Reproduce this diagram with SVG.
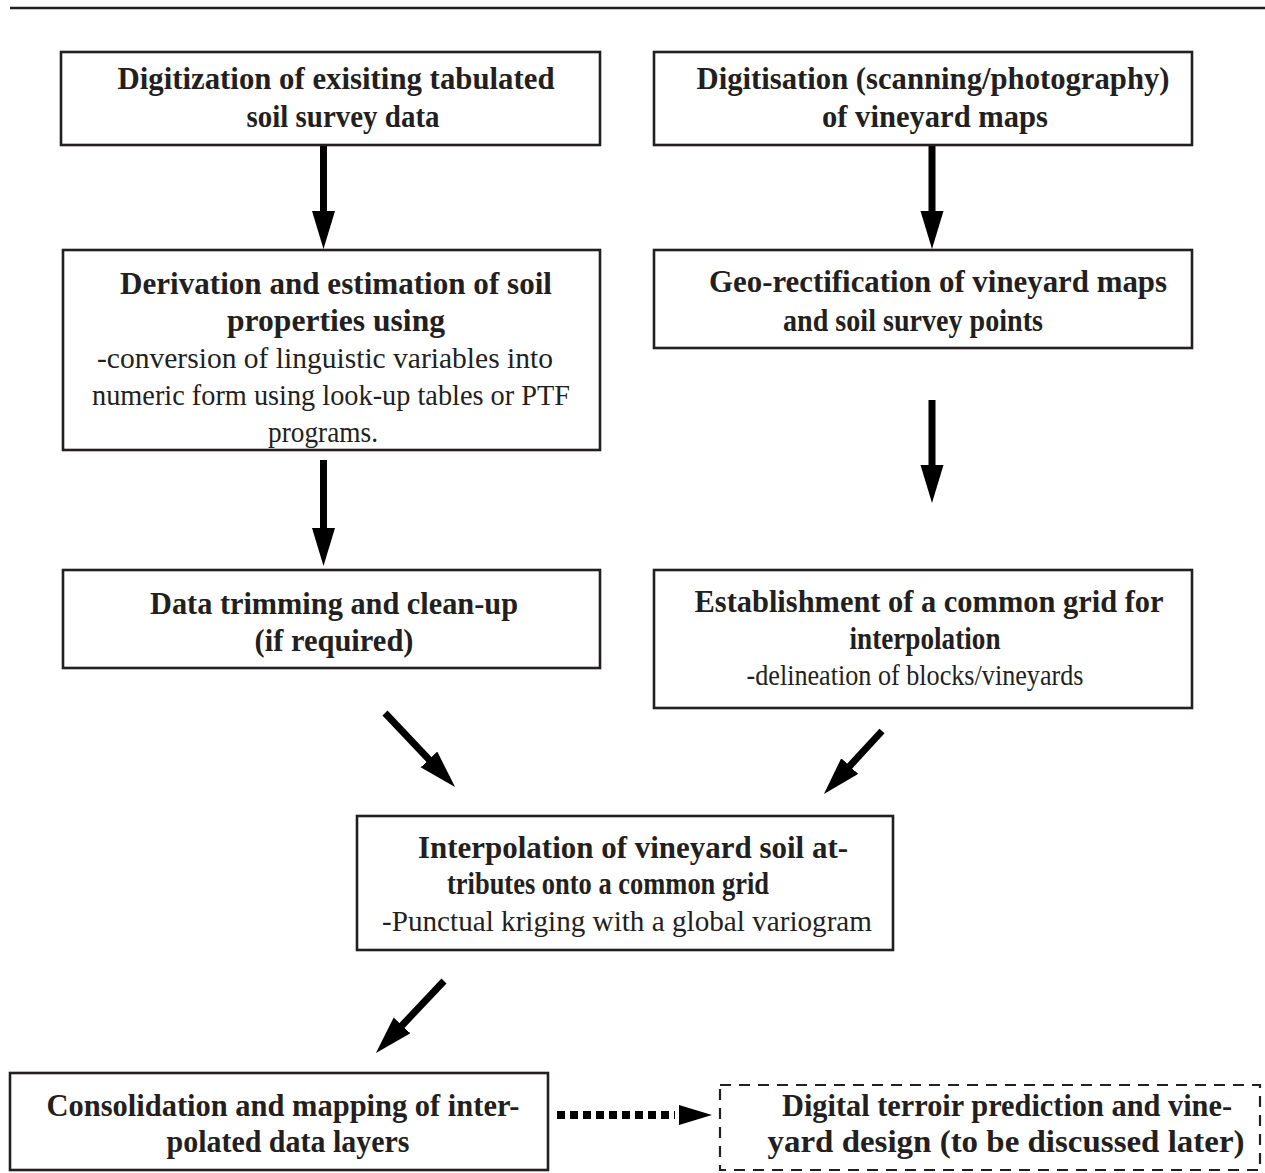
<svg xmlns="http://www.w3.org/2000/svg" width="1265" height="1173" viewBox="0 0 1265 1173">
<defs>
<style>
.box{fill:#fff;stroke:#231f20;stroke-width:2.6}
.dbox{fill:#fff;stroke:#231f20;stroke-width:2.2;stroke-dasharray:11 8}
.b{font-family:"Liberation Serif","Times New Roman",serif;font-weight:bold;font-size:32px;fill:#231f20;text-anchor:middle}
.r{font-family:"Liberation Serif","Times New Roman",serif;font-size:30px;fill:#231f20;text-anchor:middle}
.ar{stroke:#000;stroke-width:7;fill:none}
</style>
<marker id="ah" markerUnits="userSpaceOnUse" markerWidth="40" markerHeight="24" refX="18" refY="11.5" orient="auto" viewBox="0 0 40 24">
<path d="M0,0 L38,11.5 L0,23 z" fill="#000"/>
</marker>
</defs>
<rect width="1265" height="1173" fill="#fff"/>
<line x1="10" y1="8" x2="1265" y2="8" stroke="#231f20" stroke-width="2.5"/>

<g id="connectors">
<line class="ar" x1="323.5" y1="145" x2="323.5" y2="229" marker-end="url(#ah)"/>
<line class="ar" x1="932" y1="145" x2="932" y2="229" marker-end="url(#ah)"/>
<line class="ar" x1="323.5" y1="460" x2="323.5" y2="546" marker-end="url(#ah)"/>
<line class="ar" x1="932" y1="400" x2="932" y2="483" marker-end="url(#ah)"/>
<line class="ar" x1="385" y1="713" x2="441.3" y2="772.5" marker-end="url(#ah)"/>
<line class="ar" x1="882" y1="731" x2="837.5" y2="779.3" marker-end="url(#ah)"/>
<line class="ar" x1="444" y1="981" x2="389.7" y2="1038.5" marker-end="url(#ah)"/>
<line x1="557" y1="1115" x2="675" y2="1115" stroke="#000" stroke-width="8" stroke-dasharray="8 5"/>
<polygon points="679,1105 712,1115 679,1125" fill="#000"/>
</g>

<g id="n1">
<rect class="box" x="61" y="52" width="539" height="93"/>
<text class="b" x="336" y="89" textLength="437" lengthAdjust="spacingAndGlyphs">Digitization of exisiting tabulated</text>
<text class="b" x="343" y="127" textLength="193" lengthAdjust="spacingAndGlyphs">soil survey data</text>
</g>
<g id="n2">
<rect class="box" x="654" y="52" width="538" height="93"/>
<text class="b" x="933" y="89" textLength="473" lengthAdjust="spacingAndGlyphs">Digitisation (scanning/photography)</text>
<text class="b" x="935" y="127" textLength="226" lengthAdjust="spacingAndGlyphs">of vineyard maps</text>
</g>
<g id="n3">
<rect class="box" x="63" y="250" width="537" height="200"/>
<text class="b" x="336" y="294" textLength="432" lengthAdjust="spacingAndGlyphs">Derivation and estimation of soil</text>
<text class="b" x="336" y="331" textLength="218" lengthAdjust="spacingAndGlyphs">properties using</text>
<text class="r" x="325" y="368" textLength="456" lengthAdjust="spacingAndGlyphs">-conversion of linguistic variables into</text>
<text class="r" x="331" y="405" textLength="478" lengthAdjust="spacingAndGlyphs">numeric form using look-up tables or PTF</text>
<text class="r" x="323" y="442" textLength="110" lengthAdjust="spacingAndGlyphs">programs.</text>
</g>
<g id="n4">
<rect class="box" x="654" y="250" width="538" height="98"/>
<text class="b" x="938" y="292" textLength="458" lengthAdjust="spacingAndGlyphs">Geo-rectification of vineyard maps</text>
<text class="b" x="913" y="331" textLength="260" lengthAdjust="spacingAndGlyphs">and soil survey points</text>
</g>
<g id="n5">
<rect class="box" x="63" y="570" width="537" height="98"/>
<text class="b" x="334" y="614" textLength="368" lengthAdjust="spacingAndGlyphs">Data trimming and clean-up</text>
<text class="b" x="334" y="651" textLength="159" lengthAdjust="spacingAndGlyphs">(if required)</text>
</g>
<g id="n6">
<rect class="box" x="654" y="570" width="538" height="138"/>
<text class="b" x="929" y="612" textLength="469" lengthAdjust="spacingAndGlyphs">Establishment of a common grid for</text>
<text class="b" x="925" y="649" textLength="151" lengthAdjust="spacingAndGlyphs">interpolation</text>
<text class="r" x="915" y="685" textLength="337" lengthAdjust="spacingAndGlyphs">-delineation of blocks/vineyards</text>
</g>
<g id="n7">
<rect class="box" x="357" y="816" width="536" height="134"/>
<text class="b" x="633" y="858" textLength="430" lengthAdjust="spacingAndGlyphs">Interpolation of vineyard soil at-</text>
<text class="b" x="608" y="894" textLength="322" lengthAdjust="spacingAndGlyphs">tributes onto a common grid</text>
<text class="r" x="627" y="931" textLength="490" lengthAdjust="spacingAndGlyphs">-Punctual kriging with a global variogram</text>
</g>
<g id="n8">
<rect class="box" x="10" y="1073" width="538" height="97"/>
<text class="b" x="283" y="1116" textLength="473" lengthAdjust="spacingAndGlyphs">Consolidation and mapping of inter-</text>
<text class="b" x="288" y="1152" textLength="243" lengthAdjust="spacingAndGlyphs">polated data layers</text>
</g>
<g id="n9">
<rect class="dbox" x="720" y="1085" width="540" height="85"/>
<text class="b" x="1007" y="1116" textLength="450" lengthAdjust="spacingAndGlyphs">Digital terroir prediction and vine-</text>
<text class="b" x="1006" y="1152" textLength="477" lengthAdjust="spacingAndGlyphs">yard design (to be discussed later)</text>
</g>
</svg>
